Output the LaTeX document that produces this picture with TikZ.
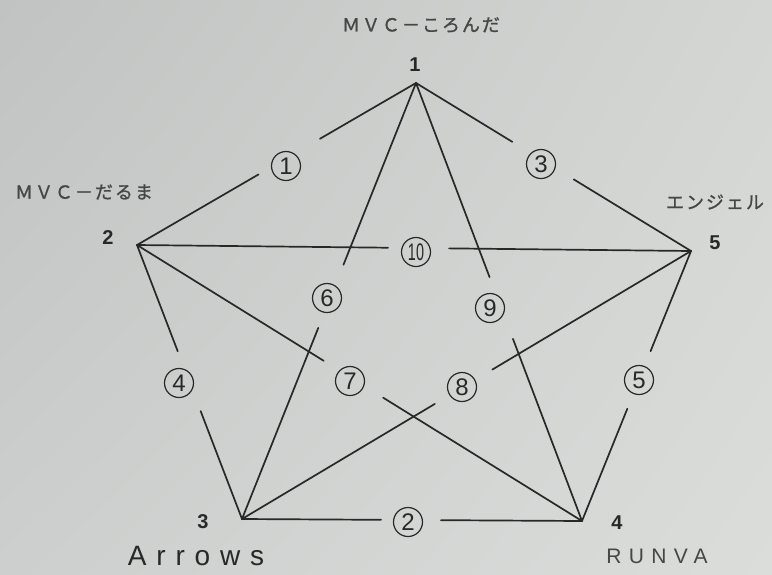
\documentclass[tikz,border=0pt]{standalone}
\usepackage{fontspec}
\usepackage{graphicx}
\setmainfont{Liberation Sans}
\newfontfamily\cjk[LetterSpace=11,FakeBold=1.2]{Noto Sans CJK JP}
\newfontfamily\wide[LetterSpace=35]{Liberation Sans}
\usetikzlibrary{calc,shadings}
\definecolor{ink}{RGB}{40,40,40}
\definecolor{softink}{RGB}{70,70,70}
\definecolor{paperA}{RGB}{192,195,193}
\definecolor{paperB}{RGB}{212,214,212}
\definecolor{paperC}{RGB}{204,207,205}
\definecolor{paperD}{RGB}{219,221,219}

\begin{document}
\begin{tikzpicture}[x=1pt,y=-1pt,
  edge/.style={draw=ink, line width=1.7pt, line cap=round},
  num/.style={circle, draw=ink, line width=1.2pt, minimum size=29pt,
    inner sep=0pt, text=ink, font=\fontsize{24}{24}\selectfont},
  vnum/.style={text=ink, font=\fontsize{20}{20}\selectfont\bfseries},
  team/.style={text=softink, font=\cjk\fontsize{18}{18}\selectfont}]
  \shade[upper left=paperA, upper right=paperB, lower left=paperC, lower right=paperD]
    (0,0) rectangle (772,574);
  \useasboundingbox (0,0) rectangle (772,574);

  \coordinate (v1) at (416,83);
  \coordinate (v2) at (137,245);
  \coordinate (v3) at (242,519);
  \coordinate (v4) at (582,521);
  \coordinate (v5) at (691,251);

  \node[vnum] (n1) at (415,65) {1};
  \node[vnum] (n2) at (108,238) {2};
  \node[vnum] (n3) at (203,522) {3};
  \node[vnum] (n4) at (617,523) {4};
  \node[vnum] (n5) at (715,243) {5};

  \node[team] (t1) at (421,25) {ＭＶＣ－ころんだ};
  \node[team] (t2) at (84,192) {ＭＶＣ－だるま};
  \node[team] (t5) at (715,202) {エンジェル};
  \node[text=ink, font=\wide\fontsize{28}{28}\selectfont] (t3) at (196,556) {Arrows};
  \node[text=softink, font=\wide\fontsize{21}{21}\selectfont] (t4) at (657,556) {RUNVA};

  \node[num] (c1) at (286,166) {1};
  \node[num] (c2) at (408,522) {2};
  \node[num] (c3) at (541,164) {3};
  \node[num] (c4) at (179,383) {4};
  \node[num] (c5) at (639,380) {5};
  \node[num] (c6) at (327,298) {6};
  \node[num] (c7) at (350,381) {7};
  \node[num] (c8) at (462,387) {8};
  \node[num] (c9) at (490,308) {9};
  \node[num] (c10) at (416,252) {\scalebox{0.6}[1]{10}};

  \foreach \a/\c/\b/\ga/\gb in {1/1/2/43/28, 1/3/5/36/36, 2/10/5/28/33,
      1/6/3/37/31, 1/9/4/29/37, 2/7/4/33/37, 3/8/5/32/35, 2/4/3/30/34,
      5/5/4/31/31, 3/2/4/27/33} {
    \coordinate (p\c) at ($(v\a)!(c\c)!(v\b)$);
    \draw[edge, shorten >=\ga pt] (v\a) -- (p\c);
    \draw[edge, shorten <=\gb pt] (p\c) -- (v\b);
  }
\end{tikzpicture}
\end{document}
